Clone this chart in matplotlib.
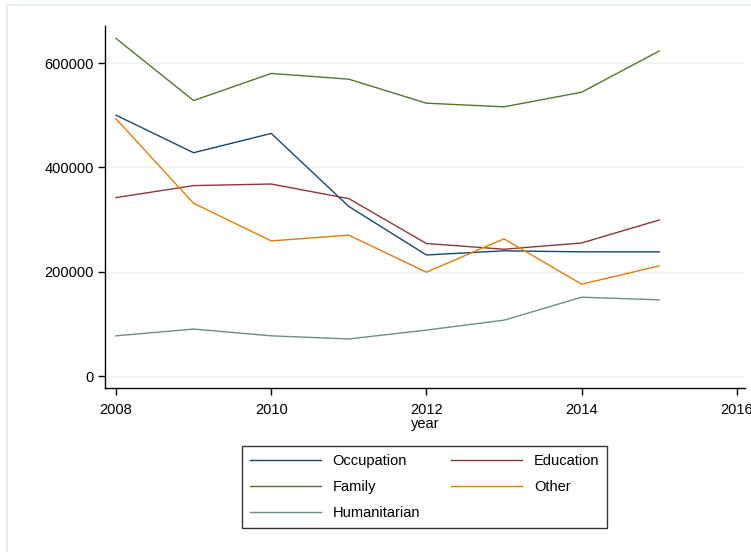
import matplotlib
matplotlib.use("Agg")
import matplotlib.pyplot as plt
from matplotlib.patches import Rectangle

years = [2008, 2009, 2010, 2011, 2012, 2013, 2014, 2015]
occupation = [500000, 428000, 465000, 325000, 232000, 240000, 238000, 238000]
education = [342000, 365000, 368000, 340000, 254000, 243000, 255000, 299000]
family = [647000, 528000, 580000, 569000, 523000, 516000, 544000, 623000]
other = [493000, 331000, 259000, 270000, 199000, 263000, 176000, 211000]
humanitarian = [77000, 90000, 77000, 71000, 88000, 107000, 151000, 146000]
series_names = ["Occupation", "Education", "Family", "Other", "Humanitarian"]
xticks = [2008, 2010, 2012, 2014, 2016]
yticks = [0, 200000, 400000, 600000]

plt.rcParams['font.family'] = ['Liberation Sans Narrow', 'Liberation Sans', 'DejaVu Sans']

fig = plt.figure(figsize=(7.51, 5.52), dpi=100)
fig.patch.set_facecolor('white')
fig.patches.append(Rectangle((7/751, -0.01), 1.0, 1 - 5/552 + 0.01, transform=fig.transFigure,
                             fill=False, edgecolor='#e6eff0', linewidth=1.5))

ax = fig.add_axes([105/751, 1 - 388/552, 640/751, (388 - 26)/552])
colors = ['#1a476f', '#90353b', '#55752f', '#e37e00', '#6e8e84']
data = [occupation, education, family, other, humanitarian]
lines = []
for name, vals, c in zip(series_names, data, colors):
    l, = ax.plot(years, vals, color=c, linewidth=1.0, label=name)
    lines.append(l)

per_px = 600000 / 313
ax.set_ylim(-12 * per_px, 350 * per_px)
ax.set_xlim(2008 - 11 / 77.6, 2008 + 629 / 77.6)
ax.set_xticks(xticks)
ax.set_yticks(yticks)
ax.set_xticklabels([str(x) for x in xticks])
ax.set_yticklabels([str(y) for y in yticks])
for y in yticks:
    ax.axhline(y, color='#eaf2f3', linewidth=1.0, zorder=0)
for s in ['top', 'right']:
    ax.spines[s].set_visible(False)
for s in ['left', 'bottom']:
    ax.spines[s].set_color('#000000')
    ax.spines[s].set_linewidth(1.0)
ax.tick_params(axis='both', direction='out', length=5, width=1, labelsize=10.5, colors='black')
ax.tick_params(axis='x', pad=6)
ax.tick_params(axis='y', pad=3)
ax.set_xlabel('year', fontsize=10.5, labelpad=0)

order = [0, 2, 4, 1, 3]
leg = fig.legend(handles=[lines[i] for i in order],
                 labels=[series_names[i] for i in order], ncol=2, loc='center',
                 bbox_to_anchor=(424.5/751, 1 - 487/552), fontsize=10.5,
                 frameon=True, fancybox=False, edgecolor='black',
                 handlelength=4.9, columnspacing=2.1, labelspacing=0.8,
                 borderpad=0.55, handletextpad=0.8, borderaxespad=0)
leg.get_frame().set_linewidth(1.0)

fig.savefig('out.png', dpi=100, facecolor='white')
